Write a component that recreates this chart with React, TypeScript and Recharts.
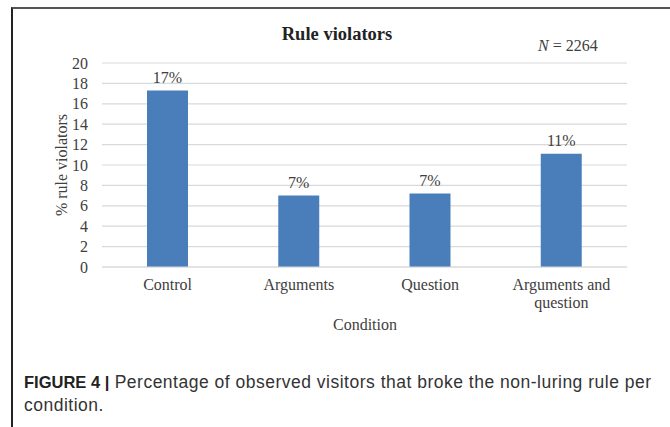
import React from "react"
import { BarChart, Bar, XAxis, YAxis, CartesianGrid, LabelList, Text } from "recharts"

const conditions = ["Control", "Arguments", "Question", "Arguments and question"]
const violators = [17.3, 7.0, 7.2, 11.1]
const percentLabels = ["17%", "7%", "7%", "11%"]
const yTicks = [0, 2, 4, 6, 8, 10, 12, 14, 16, 18, 20]

const serif = '"Liberation Serif", "Times New Roman", serif'
const sans = '"Liberation Sans", Arial, Helvetica, sans-serif'
const textColor = "#404040"

const data = conditions.map((c, i) => ({
  condition: c,
  value: violators[i],
  label: percentLabels[i],
}))

function CategoryTick(props: any) {
  const { x, y, payload } = props
  return (
    <Text
      x={x}
      y={y}
      width={120}
      textAnchor="middle"
      verticalAnchor="start"
      lineHeight={18}
      fill={textColor}
      style={{ fontFamily: serif, fontSize: 16 }}
    >
      {payload.value}
    </Text>
  )
}

export default function App() {
  return (
    <div
      style={{
        position: "absolute",
        left: 0,
        top: 0,
        width: 670,
        height: 427,
        background: "#fff",
        overflow: "hidden",
      }}
    >
      <div
        style={{
          position: "absolute",
          left: 11,
          top: 7,
          width: 670,
          height: 430,
          borderTop: "2px solid #555",
          borderLeft: "2px solid #222",
        }}
      />
      <div style={{ position: "absolute", left: 0, top: 0 }}>
        <BarChart
          width={670}
          height={340}
          data={data}
          margin={{ top: 63, right: 43, bottom: 0, left: 0 }}
        >
          <CartesianGrid vertical={false} stroke="#d9d9d9" strokeWidth={1.2} />
          <XAxis
            dataKey="condition"
            height={73}
            tickLine={false}
            tickSize={0}
            tickMargin={12}
            axisLine={{ stroke: "#d9d9d9" }}
            interval={0}
            tick={<CategoryTick />}
          />
          <YAxis
            width={102}
            domain={[0, 20]}
            ticks={yTicks}
            interval={0}
            axisLine={false}
            tickLine={false}
            tickSize={0}
            tickMargin={14}
            tick={{ fill: textColor, fontFamily: serif, fontSize: 16 }}
          />
          <Bar dataKey="value" fill="#4a7ebb" barSize={41} isAnimationActive={false}>
            <LabelList
              dataKey="label"
              position="top"
              offset={8}
              fill={textColor}
              style={{ fontFamily: serif, fontSize: 16 }}
            />
          </Bar>
        </BarChart>
      </div>
      <div
        style={{
          position: "absolute",
          left: 237,
          top: 24,
          width: 200,
          textAlign: "center",
          fontFamily: serif,
          fontWeight: "bold",
          fontSize: 18.5,
          color: "#222",
        }}
      >
        Rule violators
      </div>
      <div
        style={{
          position: "absolute",
          left: 538,
          top: 37,
          fontFamily: serif,
          fontSize: 16,
          color: textColor,
          whiteSpace: "nowrap",
        }}
      >
        <i>N</i> = 2264
      </div>
      <div
        style={{
          position: "absolute",
          left: 62,
          top: 165,
          transform: "translate(-50%, -50%) rotate(-90deg)",
          fontFamily: serif,
          fontSize: 16,
          color: textColor,
          whiteSpace: "nowrap",
        }}
      >
        % rule violators
      </div>
      <div
        style={{
          position: "absolute",
          left: 265,
          top: 316,
          width: 200,
          textAlign: "center",
          fontFamily: serif,
          fontSize: 16,
          color: textColor,
        }}
      >
        Condition
      </div>
      <div
        style={{
          position: "absolute",
          left: 24,
          top: 371,
          fontFamily: sans,
          fontSize: 17.5,
          letterSpacing: 0.5,
          lineHeight: "23px",
          color: "#333",
          whiteSpace: "nowrap",
        }}
      >
        <b style={{ color: "#222", fontSize: 16.5, letterSpacing: 0 }}>FIGURE 4 |</b> Percentage of observed visitors that broke the non-luring rule per
        <br />
        condition.
      </div>
    </div>
  )
}
